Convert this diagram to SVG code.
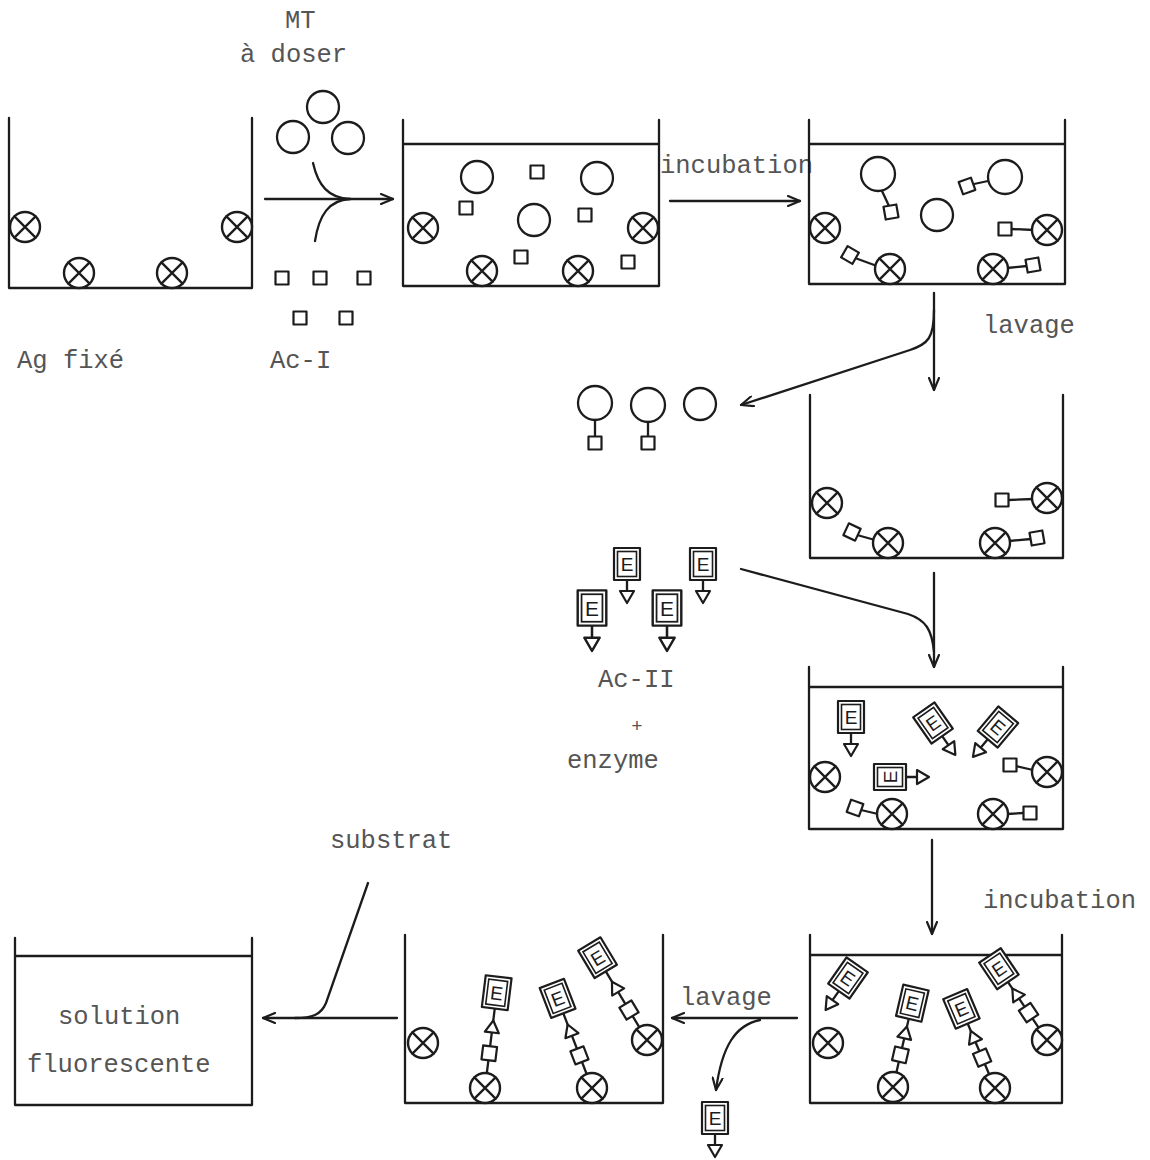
<svg xmlns="http://www.w3.org/2000/svg" xmlns:xlink="http://www.w3.org/1999/xlink" width="1150" height="1160" viewBox="0 0 1150 1160">
<style>
.s{fill:none;stroke:#1c1c1c;stroke-width:2.3;stroke-linecap:round;stroke-linejoin:round}
.w{fill:#fff;stroke:#1c1c1c;stroke-width:2.2;stroke-linejoin:round}
.i{fill:none;stroke:#1c1c1c;stroke-width:1.6}
.t{font-family:"Liberation Mono","DejaVu Sans Mono",monospace;font-size:25.5px;fill:#555}
.e{font-family:"Liberation Sans","DejaVu Sans",sans-serif;font-size:19px;fill:#1c1c1c;text-anchor:middle}
.c{fill:none;stroke:#1c1c1c;stroke-width:2.3;stroke-linecap:round}
</style>
<defs>
<marker id="ah" viewBox="0 0 14 12" refX="13" refY="6" markerWidth="14" markerHeight="12" markerUnits="userSpaceOnUse" orient="auto">
<path d="M1,1 L13,6 L1,11" fill="none" stroke="#1c1c1c" stroke-width="2.2" stroke-linecap="round" stroke-linejoin="round"/>
</marker>
<g id="ag"><circle r="15" fill="#fff" stroke="#1c1c1c" stroke-width="2.4"/><path d="M-10.6,-10.6 L10.6,10.6 M-10.6,10.6 L10.6,-10.6" class="s"/></g>
<g id="o"><circle r="16" class="s"/></g>
<g id="sq"><rect x="-6.5" y="-6.5" width="13" height="13" class="w"/></g>
<g id="eu">
<line x1="0" y1="16" x2="0" y2="27" class="s"/>
<path d="M-7,27 L7,27 L0,39 Z" class="w"/>
<rect x="-13" y="-16" width="26" height="32" class="w"/>
<rect x="-9.5" y="-12.5" width="19" height="25" class="i"/>
<text x="0" y="7" class="e">E</text>
</g>
<g id="ch">
<line x1="0" y1="-15" x2="0" y2="-70" class="s"/>
<rect x="-7" y="-40" width="14" height="14" class="w"/>
<path d="M-7,-50 L7,-50 L0,-62 Z" class="w"/>
<rect x="-13" y="-102" width="26" height="32" class="w"/>
<rect x="-9.5" y="-98.5" width="19" height="25" class="i"/>
<text x="0" y="-79" class="e">E</text>
</g>
<g id="ch2">
<line x1="0" y1="-15" x2="0" y2="-80" class="s"/>
<rect x="-7" y="-42" width="14" height="14" class="w"/>
<path d="M-7,-56 L7,-56 L0,-68 Z" class="w"/>
<rect x="-13" y="-112" width="26" height="32" class="w"/>
<rect x="-9.5" y="-108.5" width="19" height="25" class="i"/>
<text x="0" y="-89" class="e">E</text>
</g>
</defs>
<rect width="1150" height="1160" fill="#fff"/>

<g id="texts">
<text x="285" y="28" class="t">MT</text>
<text x="240" y="62" class="t">à doser</text>
<text x="17" y="368" class="t">Ag fixé</text>
<text x="270" y="368" class="t">Ac-I</text>
<text x="660" y="173" class="t">incubation</text>
<text x="983" y="333" class="t">lavage</text>
<text x="598" y="687" class="t">Ac-II</text>
<text x="637" y="732" class="t" style="font-size:19px" text-anchor="middle">+</text>
<text x="567" y="768" class="t">enzyme</text>
<text x="330" y="848" class="t">substrat</text>
<text x="983" y="908" class="t">incubation</text>
<text x="680" y="1005" class="t">lavage</text>
<text x="58" y="1024" class="t">solution</text>
<text x="27" y="1072" class="t">fluorescente</text>
</g>

<g id="reactifs-MT-AcI">
<use href="#o" x="293" y="137"/>
<use href="#o" x="323" y="107"/>
<use href="#o" x="348" y="138"/>
<use href="#sq" x="282" y="278"/>
<use href="#sq" x="320" y="278"/>
<use href="#sq" x="364" y="278"/>
<use href="#sq" x="300" y="318"/>
<use href="#sq" x="346" y="318"/>
</g>

<g id="puits1">
<path d="M9,118 V288 H252 V118" class="s"/>
<use href="#ag" x="25" y="227"/>
<use href="#ag" x="79" y="273"/>
<use href="#ag" x="172" y="273"/>
<use href="#ag" x="237" y="227"/>
</g>

<g id="puits2">
<path d="M403,120 V286 H659 V120 M403,144 H659" class="s"/>
<use href="#o" x="477" y="177"/>
<use href="#o" x="597" y="178"/>
<use href="#o" x="534" y="220"/>
<use href="#sq" x="537" y="172"/>
<use href="#sq" x="466" y="208"/>
<use href="#sq" x="585" y="215"/>
<use href="#sq" x="521" y="257"/>
<use href="#sq" x="628" y="262"/>
<use href="#ag" x="423" y="228"/>
<use href="#ag" x="482" y="271"/>
<use href="#ag" x="578" y="271"/>
<use href="#ag" x="643" y="228"/>
</g>

<g id="puits3">
<path d="M809,120 V284 H1065 V120 M809,144 H1065" class="s"/>
<circle cx="878" cy="174" r="17" class="s"/>
<line x1="882" y1="191" x2="889" y2="206" class="s"/>
<use href="#sq" transform="translate(891,212) rotate(-10)"/>
<use href="#o" x="937" y="215"/>
<circle cx="1005" cy="177" r="17" class="s"/>
<line x1="988" y1="181" x2="974" y2="184" class="s"/>
<use href="#sq" transform="translate(967,186) rotate(-20)"/>
<use href="#ag" x="825" y="228"/>
<line x1="855" y1="258" x2="877" y2="266" class="s"/>
<use href="#sq" transform="translate(850,255) rotate(30)"/>
<use href="#ag" x="890" y="269"/>
<line x1="1011" y1="229" x2="1034" y2="230" class="s"/>
<use href="#sq" x="1005" y="229"/>
<use href="#ag" x="1047" y="230"/>
<line x1="1007" y1="268" x2="1027" y2="266" class="s"/>
<use href="#ag" x="993" y="269"/>
<use href="#sq" transform="translate(1033,265) rotate(-10)"/>
</g>

<g id="elues">
<circle cx="595" cy="403" r="17" class="s"/>
<line x1="595" y1="420" x2="595" y2="436" class="s"/>
<use href="#sq" x="595" y="443"/>
<circle cx="648" cy="405" r="17" class="s"/>
<line x1="648" y1="422" x2="648" y2="436" class="s"/>
<use href="#sq" x="648" y="443"/>
<circle cx="700" cy="404" r="16" class="s"/>
</g>

<g id="puits4">
<path d="M810,395 V558 H1063 V395" class="s"/>
<use href="#ag" x="827" y="503"/>
<line x1="857" y1="535" x2="875" y2="540" class="s"/>
<use href="#sq" transform="translate(852,532) rotate(25)"/>
<use href="#ag" x="888" y="543"/>
<line x1="1008" y1="500" x2="1034" y2="499" class="s"/>
<use href="#sq" x="1002" y="500"/>
<use href="#ag" x="1047" y="498"/>
<line x1="1009" y1="541" x2="1031" y2="539" class="s"/>
<use href="#ag" x="995" y="543"/>
<use href="#sq" transform="translate(1037,538) rotate(-10)"/>
</g>

<g id="AcII-enzyme">
<use href="#eu" transform="translate(627,564)"/>
<use href="#eu" transform="translate(703,564)"/>
<use href="#eu" transform="translate(592,608) scale(1.1)"/>
<use href="#eu" transform="translate(667,608) scale(1.1)"/>
</g>

<g id="puits5">
<path d="M809,667 V829 H1063 V667 M809,687 H1063" class="s"/>
<use href="#eu" transform="translate(851,717)"/>
<use href="#eu" transform="translate(933,723) rotate(-35)"/>
<use href="#eu" transform="translate(998,727) rotate(40)"/>
<use href="#eu" transform="translate(890,777) rotate(-90)"/>
<use href="#ag" x="825" y="777"/>
<line x1="1016" y1="766" x2="1033" y2="770" class="s"/>
<use href="#sq" x="1010" y="765"/>
<use href="#ag" x="1047" y="772"/>
<line x1="861" y1="810" x2="878" y2="814" class="s"/>
<use href="#sq" transform="translate(855,808) rotate(20)"/>
<use href="#ag" x="892" y="814"/>
<line x1="1007" y1="814" x2="1024" y2="813" class="s"/>
<use href="#ag" x="993" y="814"/>
<use href="#sq" x="1030" y="813"/>
</g>

<g id="puits6">
<path d="M810,935 V1103 H1062 V935 M810,955 H1062" class="s"/>
<use href="#eu" transform="translate(848,978) rotate(35)"/>
<use href="#ag" x="828" y="1043"/>
<use href="#ch" transform="translate(893,1087) rotate(13)"/>
<use href="#ag" x="893" y="1087"/>
<use href="#ch" transform="translate(995,1088) rotate(-23)"/>
<use href="#ag" x="995" y="1088"/>
<use href="#ch" transform="translate(1047,1040) rotate(-34)"/>
<use href="#ag" x="1047" y="1040"/>
</g>

<g id="puits7">
<path d="M405,935 V1103 H663 V935" class="s"/>
<use href="#ag" x="423" y="1043"/>
<use href="#ch2" transform="translate(485,1088) rotate(7)"/>
<use href="#ag" x="485" y="1088"/>
<use href="#ch2" transform="translate(592,1088) rotate(-21)"/>
<use href="#ag" x="592" y="1088"/>
<use href="#ch2" transform="translate(647,1040) rotate(-31)"/>
<use href="#ag" x="647" y="1040"/>
</g>

<g id="elue-E">
<use href="#eu" transform="translate(715,1118)"/>
</g>

<g id="puits8">
<path d="M15,938 V1105 H252 V938 M15,956 H252" class="s"/>
</g>

<g id="connectors">
<path d="M265,199 H393" class="c" marker-end="url(#ah)"/>
<path d="M313,163 C318,185 328,198 350,199" class="c"/>
<path d="M315,241 C319,215 329,200 350,199" class="c"/>
<path d="M670,201 H800" class="c" marker-end="url(#ah)"/>
<path d="M934,293 V390" class="c" marker-end="url(#ah)"/>
<path d="M934,310 C934,338 928,344 910,350 L741,405" class="c" marker-end="url(#ah)"/>
<path d="M934,573 V667" class="c" marker-end="url(#ah)"/>
<path d="M741,569 L908,614 C926,620 932,630 934,652" class="c"/>
<path d="M932,840 V934" class="c" marker-end="url(#ah)"/>
<path d="M797,1018 H672" class="c" marker-end="url(#ah)"/>
<path d="M760,1020 C736,1025 722,1045 716,1090" class="c" marker-end="url(#ah)"/>
<path d="M397,1018 H263" class="c" marker-end="url(#ah)"/>
<path d="M368,883 L326,1003 C321,1015 312,1018 295,1018" class="c"/>
</g>
</svg>
